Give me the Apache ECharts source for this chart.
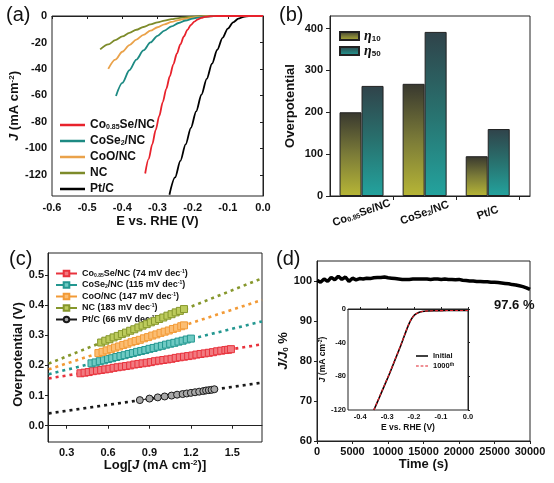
<!DOCTYPE html>
<html><head><meta charset="utf-8">
<script src="https://cdn.jsdelivr.net/npm/echarts@6.0.0/dist/echarts.min.js"></script>
<style>html,body{margin:0;padding:0;background:#fff}#c{width:554px;height:483px}</style>
</head><body><div id="c"></div>
<script>
// ---------- (a) LSV polarization curves ----------
const lsvNames = ['Co0.85Se/NC','CoSe2/NC','CoO/NC','NC','Pt/C'];
const co85E = [-0.335,-0.325,-0.315,-0.305,-0.295,-0.285,-0.275,-0.265,-0.255,-0.245,-0.235,-0.225,-0.215,-0.205,-0.195,-0.185,-0.175,-0.165,-0.15,-0.13,0];
const co85J = [-119,-108,-97,-86,-75.5,-65,-55,-45.5,-36.5,-28.5,-21.5,-15.5,-10.5,-6.8,-4.2,-2.5,-1.4,-0.7,-0.2,0,0];
const coSe2E = [-0.418,-0.4,-0.38,-0.36,-0.34,-0.32,-0.3,-0.28,-0.26,-0.24,-0.22,-0.2,-0.18,-0.16,-0.14,-0.12,0];
const coSe2J = [-60.4,-50.5,-41,-33,-26,-20,-15,-11,-7.8,-5.3,-3.4,-2,-1,-0.4,-0.1,0,0];
const cooE = [-0.44,-0.42,-0.4,-0.38,-0.36,-0.34,-0.32,-0.3,-0.28,-0.26,-0.24,-0.22,-0.2,-0.18,-0.16,-0.14,0];
const cooJ = [-40,-33,-27,-22,-17.8,-14.2,-11.1,-8.5,-6.3,-4.5,-3.1,-2,-1.2,-0.6,-0.2,0,0];
const ncE = [-0.463,-0.44,-0.42,-0.4,-0.38,-0.36,-0.34,-0.32,-0.3,-0.28,-0.26,-0.24,-0.22,-0.2,-0.18,-0.16,0];
const ncJ = [-25.2,-21.5,-18.3,-15.4,-12.8,-10.4,-8.3,-6.4,-4.8,-3.5,-2.4,-1.6,-1,-0.5,-0.2,0,0];
const ptE = [-0.266,-0.25,-0.235,-0.22,-0.205,-0.19,-0.175,-0.16,-0.145,-0.13,-0.115,-0.1,-0.085,-0.07,-0.055,-0.04,0];
const ptJ = [-135,-122,-109.5,-97,-84.5,-72,-59.5,-47.5,-36,-25.5,-16.5,-9.5,-4.8,-2,-0.6,0,0];
const aXTicks = [-0.6,-0.5,-0.4,-0.3,-0.2,-0.1,0];
const aYTicks = [-120,-100,-80,-60,-40,-20,0];

// ---------- (b) overpotential bars ----------
const barCats = ['Co0.85Se/NC','CoSe2/NC','Pt/C'];
const eta10 = [200,268,95];
const eta50 = [263,392,160];
const bYTicks = [0,100,200,300,400];

// ---------- (c) Tafel plots ----------
const tafelNames = ['Co0.85Se/NC (74 mV dec-1)','CoSe2/NC (115 mV dec-1)','CoO/NC (147 mV dec-1)','NC (183 mV dec-1)','Pt/C (66 mV dec-1)'];
const tCoX = [0.40,0.43,0.46,0.49,0.52,0.55,0.58,0.61,0.64,0.67,0.70,0.73,0.76,0.79,0.82,0.85,0.88,0.91,0.94,0.97,1.00,1.03,1.06,1.09,1.12,1.15,1.18,1.21,1.24,1.27,1.30,1.33,1.36,1.39,1.42,1.45,1.47,1.49];
const tCoY = [0.174,0.176,0.178,0.181,0.183,0.185,0.187,0.189,0.192,0.194,0.196,0.198,0.200,0.203,0.205,0.207,0.209,0.211,0.214,0.216,0.218,0.220,0.222,0.225,0.227,0.229,0.231,0.233,0.236,0.238,0.240,0.242,0.244,0.247,0.249,0.251,0.252,0.254];
const tSeX = [0.48,0.51,0.54,0.57,0.60,0.63,0.66,0.69,0.72,0.75,0.78,0.81,0.84,0.87,0.90,0.93,0.96,0.99,1.02,1.05,1.08,1.11,1.14,1.17,1.20];
const tSeY = [0.207,0.210,0.214,0.217,0.221,0.224,0.228,0.231,0.234,0.238,0.241,0.245,0.248,0.251,0.255,0.258,0.262,0.265,0.269,0.272,0.275,0.279,0.282,0.286,0.289];
const tCooX = [0.53,0.56,0.59,0.62,0.65,0.68,0.71,0.74,0.77,0.80,0.83,0.86,0.89,0.92,0.95,0.98,1.01,1.04,1.07,1.10,1.13,1.15];
const tCooY = [0.241,0.245,0.250,0.254,0.259,0.263,0.268,0.272,0.277,0.281,0.285,0.290,0.294,0.299,0.303,0.308,0.312,0.316,0.321,0.325,0.330,0.333];
const tNcX = [0.55,0.58,0.61,0.64,0.67,0.70,0.73,0.76,0.79,0.82,0.85,0.88,0.91,0.94,0.97,1.00,1.03,1.06,1.09,1.12,1.15];
const tNcY = [0.276,0.282,0.287,0.293,0.298,0.304,0.309,0.315,0.320,0.326,0.332,0.337,0.343,0.348,0.354,0.359,0.365,0.370,0.376,0.381,0.387];
const tPtX = [0.83,0.90,0.96,1.01,1.06,1.10,1.14,1.17,1.20,1.23,1.26,1.29,1.31,1.33,1.35,1.37];
const tPtY = [0.085,0.090,0.094,0.097,0.100,0.103,0.105,0.107,0.109,0.111,0.113,0.115,0.117,0.118,0.119,0.121];
const fitX = [0.17,1.715];
const fitCo = [0.157,0.270];
const fitSe = [0.171,0.346];
const fitCoo = [0.187,0.417];
const fitNc = [0.206,0.489];
const fitPt = [0.041,0.143];
const cXTicks = [0.3,0.6,0.9,1.2,1.5];
const cYTicks = [0,0.1,0.2,0.3,0.4,0.5];

// ---------- (d) stability ----------
const stabT = [0,500,1000,1500,2000,2500,3000,3500,4000,4500,5000,5500,6000,6500,7000,7500,8000,8500,9000,9500,10000,10500,11000,11500,12000,12500,13000,13500,14000,14500,15000,15500,16000,16500,17000,17500,18000,18500,19000,19500,20000,20500,21000,21500,22000,22500,23000,23500,24000,24500,25000,25500,26000,26500,27000,27500,28000,28500,29000,29500,30000];
const stabV = [100.2,99.7,100.5,99.9,100.9,100.3,101.2,100.4,101.0,99.9,100.7,100.3,100.6,100.5,100.7,100.6,100.8,100.9,100.9,101.0,100.8,100.7,100.6,100.5,100.4,100.4,100.4,100.5,100.5,100.5,100.5,100.5,100.4,100.5,100.5,100.4,100.5,100.4,100.4,100.3,100.4,100.2,100.1,100.0,100.0,99.9,99.9,99.8,99.8,99.7,99.7,99.6,99.5,99.4,99.3,99.1,99.0,98.8,98.6,98.3,97.9];
const dYTicks = [60,70,80,90,100];
const retention = '97.6 %';
// inset LSV before/after
const insE = [-0.349,-0.33,-0.31,-0.29,-0.27,-0.25,-0.235,-0.222,-0.21,-0.198,-0.185,-0.17,-0.15,-0.12,-0.08,-0.04,0];
const insJinit = [-120,-106,-91,-76,-60,-44,-31,-20,-12,-7,-4.5,-3,-2.3,-2,-1.8,-1.7,-1.6];
const insJ1000 = [-120,-105.5,-90.5,-75.5,-59.5,-43.6,-30.6,-19.7,-11.8,-6.9,-4.4,-3,-2.3,-2,-1.8,-1.7,-1.6];
const insXTicks = [-0.4,-0.3,-0.2,-0.1,0];

// ---------- helpers ----------
const F = '"Liberation Sans", Arial, sans-serif';
const zip = (xs, ys) => xs.map((x, i) => [x, ys[i]]);
const f1 = v => (Math.abs(v) < 1e-9 ? '0.0' : v.toFixed(1));
function R(fs) {
  const sm = Math.max(5, Math.round(fs * 0.6));
  return {
    b: {fontFamily: F, fontWeight: 'bold', fontSize: fs, color: '#111'},
    i: {fontFamily: F, fontWeight: 'bold', fontStyle: 'italic', fontSize: fs, color: '#111'},
    e: {fontFamily: '"Liberation Serif", serif', fontWeight: 'bold', fontStyle: 'italic', fontSize: fs + 1, color: '#111'},
    s: {fontFamily: F, fontWeight: 'bold', fontSize: sm, color: '#111', verticalAlign: 'bottom'},
    p: {fontFamily: F, fontWeight: 'bold', fontSize: sm, color: '#111', verticalAlign: 'top'}
  };
}
const richName = {
  'Co0.85Se/NC': '{b|Co}{s|0.85}{b|Se/NC}',
  'CoSe2/NC': '{b|CoSe}{s|2}{b|/NC}',
  'CoO/NC': '{b|CoO/NC}',
  'NC': '{b|NC}',
  'Pt/C': '{b|Pt/C}',
  'Co0.85Se/NC (74 mV dec-1)': '{b|Co}{s|0.85}{b|Se/NC (74 mV dec}{p|-1}{b|)}',
  'CoSe2/NC (115 mV dec-1)': '{b|CoSe}{s|2}{b|/NC (115 mV dec}{p|-1}{b|)}',
  'CoO/NC (147 mV dec-1)': '{b|CoO/NC (147 mV dec}{p|-1}{b|)}',
  'NC (183 mV dec-1)': '{b|NC (183 mV dec}{p|-1}{b|)}',
  'Pt/C (66 mV dec-1)': '{b|Pt/C (66 mV dec}{p|-1}{b|)}',
  'η10': '{e|η}{s|10}',
  'η50': '{e|η}{s|50}',
  'Initial': '{b|Initial}',
  '1000th': '{b|1000}{p|th}'
};
const axLine = {show: true, lineStyle: {color: '#222', width: 1}};
function lab(fs, extra) { return Object.assign({fontFamily: F, fontWeight: 'bold', fontSize: fs, color: '#111', margin: 5}, extra || {}); }
function tick(extra) { return Object.assign({show: true, inside: false, length: 3, lineStyle: {color: '#222'}}, extra || {}); }

const colA = ['#e8222c', '#1d8a83', '#eaa24a', '#7d8b2a', '#000000'];
const colC = ['#e8333d', '#239790', '#f29a36', '#86972c', '#1a1a1a'];
const fillC = ['#f27a80', '#6fcac3', '#fbbd72', '#bccb5c', '#a8a8a8'];

const g10 = {type: 'linear', x: 0, y: 0, x2: 0, y2: 1, colorStops: [{offset: 0, color: '#38382f'}, {offset: 0.5, color: '#7b7b38'}, {offset: 1, color: '#b7b636'}]};
const g50 = {type: 'linear', x: 0, y: 0, x2: 0, y2: 1, colorStops: [{offset: 0, color: '#30434a'}, {offset: 0.5, color: '#28726f'}, {offset: 1, color: '#23a39e'}]};

const series = [];
// (a)
[[co85E, co85J], [coSe2E, coSe2J], [cooE, cooJ], [ncE, ncJ], [ptE, ptJ]].forEach((d, i) => {
  series.push({name: lsvNames[i], type: 'line', xAxisIndex: 0, yAxisIndex: 0, data: zip(d[0], d[1]),
    symbol: 'none', smooth: 0.3, smoothMonotone: 'x', lineStyle: {color: colA[i], width: 1.8}, itemStyle: {color: colA[i]}, z: 10 - i});
});
// (b)
series.push({name: 'η10', type: 'bar', xAxisIndex: 1, yAxisIndex: 1, data: eta10.map((v, i) => [i + 1, v]),
  barWidth: 22, barGap: '0%', itemStyle: {color: g10, borderColor: '#222', borderWidth: 1}});
series.push({name: 'η50', type: 'bar', xAxisIndex: 1, yAxisIndex: 1, data: eta50.map((v, i) => [i + 1, v]),
  barWidth: 22, barGap: '0%', itemStyle: {color: g50, borderColor: '#222', borderWidth: 1}});
// (c) fits
[fitCo, fitSe, fitCoo, fitNc, fitPt].forEach((f, i) => {
  series.push({name: 'fit' + i, type: 'line', xAxisIndex: 2, yAxisIndex: 2, data: zip(fitX, f), symbol: 'none',
    lineStyle: {color: colC[i], width: 2.6, type: [3, 4]}, z: 2, silent: true});
});
// (c) data
[[tCoX, tCoY], [tSeX, tSeY], [tCooX, tCooY], [tNcX, tNcY], [tPtX, tPtY]].forEach((d, i) => {
  series.push({name: tafelNames[i], type: 'line', xAxisIndex: 2, yAxisIndex: 2, data: zip(d[0], d[1]),
    symbol: i === 4 ? 'circle' : 'rect', symbolSize: 7, showAllSymbol: true,
    lineStyle: {color: colC[i], width: 1}, itemStyle: {color: fillC[i], borderColor: colC[i], borderWidth: 1}, z: 5});
});
// (d)
series.push({name: 'stab', type: 'line', xAxisIndex: 3, yAxisIndex: 3, data: zip(stabT, stabV), symbol: 'none',
  lineStyle: {color: '#000', width: 3.5}});
series.push({name: 'Initial', type: 'line', xAxisIndex: 4, yAxisIndex: 4, data: zip(insE, insJinit), symbol: 'none', smooth: 0.3,
  lineStyle: {color: '#000', width: 1.6}, itemStyle: {color: '#000'}, z: 20});
series.push({name: '1000th', type: 'line', xAxisIndex: 4, yAxisIndex: 4, data: zip(insE, insJ1000), symbol: 'none', smooth: 0.3,
  lineStyle: {color: '#e0202a', width: 1.2, type: [3, 2]}, itemStyle: {color: '#e0202a'}, z: 21});

const gridStyle = {show: true, borderColor: '#222', borderWidth: 1, backgroundColor: 'transparent'};
const dashIcon = 'path://M0,0H3V1H0Z M5,0H8V1H5Z M10,0H13V1H10Z';
const option = {
  animation: false,
  backgroundColor: '#fff',
  grid: [
    Object.assign({left: 52, top: 16, width: 211, height: 180}, gridStyle),
    Object.assign({left: 330, top: 16, width: 200, height: 180}, gridStyle),
    Object.assign({left: 48, top: 253, width: 214, height: 189}, gridStyle),
    Object.assign({left: 317, top: 261, width: 213, height: 180}, gridStyle),
    {show: true, left: 348, top: 309, width: 120, height: 101, borderColor: '#222', borderWidth: 1, backgroundColor: '#fff', z: 3}
  ],
  xAxis: [
    {gridIndex: 0, type: 'value', min: -0.6, max: 0, axisLine: axLine, splitLine: {show: false},
      axisTick: tick({customValues: aXTicks}), axisLabel: lab(11, {customValues: aXTicks, formatter: f1, margin: 6}),
      name: '{b|E vs. RHE (V)}', nameLocation: 'middle', nameGap: 19, nameTextStyle: {rich: R(13)}},
    {gridIndex: 1, type: 'value', min: 0.5, max: 3.67, axisLine: axLine, splitLine: {show: false},
      axisTick: tick({customValues: [1.5, 2.5, 3.5], length: 4}),
      axisLabel: {customValues: [1, 2, 3], rotate: 20, align: 'center', verticalAlign: 'middle', margin: 17,
        formatter: v => richName[barCats[Math.round(v) - 1]] || '', rich: R(11)}},
    {gridIndex: 2, type: 'value', min: 0.165, max: 1.715, axisLine: axLine, splitLine: {show: false},
      axisTick: tick({customValues: cXTicks}), axisLabel: lab(11, {customValues: cXTicks, formatter: f1, margin: 5}),
      name: '{b|Log[}{i|J}{b| (mA cm}{p|-2}{b|)]}', nameLocation: 'middle', nameGap: 13, nameTextStyle: {rich: R(13)}},
    {gridIndex: 3, type: 'value', min: 0, max: 30000, interval: 5000, axisLine: axLine, splitLine: {show: false},
      axisTick: tick(), axisLabel: lab(11, {margin: 5, formatter: v => String(v)}),
      name: '{b|Time (s)}', nameLocation: 'middle', nameGap: 13, nameTextStyle: {rich: R(13)}},
    {gridIndex: 4, type: 'value', min: -0.445, max: 0, axisLine: axLine, splitLine: {show: false}, z: 22,
      axisTick: tick({customValues: insXTicks, inside: true, length: 2}), axisLabel: lab(7.5, {customValues: insXTicks, formatter: f1, margin: 3}),
      name: '{b|E vs. RHE (V)}', nameLocation: 'middle', nameGap: 13, nameTextStyle: {rich: R(8.5)}}
  ],
  yAxis: [
    {gridIndex: 0, type: 'value', min: -136, max: 0, axisLine: axLine, splitLine: {show: false},
      axisTick: tick({customValues: aYTicks}), axisLabel: lab(11, {customValues: aYTicks, margin: 5}),
      name: '{i|J}{b| (mA cm}{p|-2}{b|)}', nameLocation: 'middle', nameGap: 29, nameTextStyle: {rich: R(13)}},
    {gridIndex: 1, type: 'value', min: 0, max: 430, axisLine: axLine, splitLine: {show: false},
      axisTick: tick({customValues: bYTicks, length: 4}), axisLabel: lab(11, {customValues: bYTicks, margin: 7}),
      name: '{b|Overpotential}', nameLocation: 'middle', nameGap: 33, nameTextStyle: {rich: R(13)}},
    {gridIndex: 2, type: 'value', min: -0.054, max: 0.573, axisLine: axLine, splitLine: {show: false},
      axisTick: tick({customValues: cYTicks}), axisLabel: lab(11, {customValues: cYTicks, formatter: f1, margin: 4}),
      name: '{b|Overpotential (V)}', nameLocation: 'middle', nameGap: 21, nameTextStyle: {rich: R(13), padding: [0, 14, 0, 0]}},
    {gridIndex: 3, type: 'value', min: 60, max: 105, axisLine: axLine, splitLine: {show: false},
      axisTick: tick({customValues: dYTicks}), axisLabel: lab(11, {customValues: dYTicks, margin: 5}),
      name: '{i|J/J}{s|0}{b| %}', nameLocation: 'middle', nameGap: 22, nameTextStyle: {rich: R(13)}},
    {gridIndex: 4, type: 'value', min: -120, max: 0, interval: 40, axisLine: axLine, splitLine: {show: false}, z: 22,
      axisTick: tick({inside: true, length: 2}), axisLabel: lab(7.5, {margin: 2}),
      name: '{i|J}{b| (mA cm}{p|-2}{b|)}', nameLocation: 'middle', nameGap: 17, nameTextStyle: {rich: R(8.5)}}
  ],
  legend: [
    {data: lsvNames, left: 55, top: 114, orient: 'vertical', itemWidth: 25, itemHeight: 2.5, itemGap: 4, icon: 'rect',
      formatter: n => richName[n], textStyle: {rich: R(12)}},
    {data: ['η10', 'η50'], left: 334, top: 24, orient: 'vertical', itemWidth: 19, itemHeight: 8, itemGap: 1, icon: 'rect',
      formatter: n => richName[n], textStyle: {rich: R(13)}},
    {data: tafelNames, left: 50, top: 264, orient: 'vertical', itemWidth: 21, itemHeight: 7, itemGap: 2.5,
      formatter: n => richName[n], textStyle: {rich: R(9)}},
    {data: [{name: 'Initial', icon: 'rect'}, {name: '1000th', icon: dashIcon}], left: 411, top: 347, orient: 'vertical',
      itemWidth: 12, itemHeight: 1.5, itemGap: 2, z: 30,
      formatter: n => richName[n], textStyle: {rich: R(7.5)}}
  ],
  graphic: [
    {type: 'text', left: 6, top: 5, style: {text: '(a)', font: '20px ' + F, fill: '#111'}},
    {type: 'text', left: 279, top: 5, style: {text: '(b)', font: '20px ' + F, fill: '#111'}},
    {type: 'text', left: 9, top: 249, style: {text: '(c)', font: '20px ' + F, fill: '#111'}},
    {type: 'text', left: 276, top: 249, style: {text: '(d)', font: '20px ' + F, fill: '#111'}},
    {type: 'text', left: 494, top: 299, style: {text: retention, font: 'bold 13px ' + F, fill: '#111'}}
  ],
  series: series
};
const chart = echarts.init(document.getElementById('c'), null, {renderer: 'canvas'});
chart.setOption(option);
</script></body></html>
